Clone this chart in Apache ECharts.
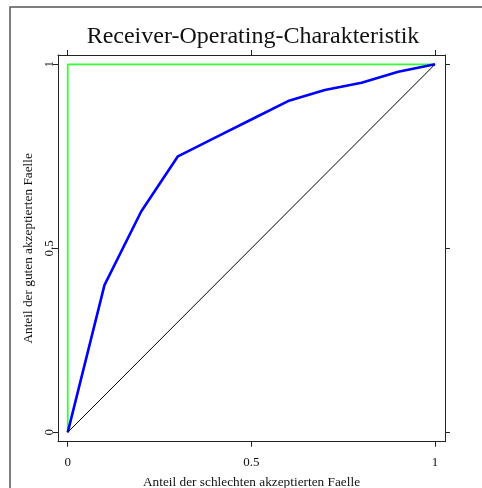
<!DOCTYPE html>
<html>
<head>
<meta charset="utf-8">
<script src="https://cdn.jsdelivr.net/npm/echarts@6/dist/echarts.min.js"></script>
<style>
html,body{margin:0;padding:0;background:#fff;}
#chart{width:482px;height:488px;}
</style>
</head>
<body>
<div id="chart"></div>
<script>
var titleText = 'Receiver-Operating-Charakteristik';
var xName = 'Anteil der schlechten akzeptierten Faelle';
var yName = 'Anteil der guten akzeptierten Faelle';
var tickValues = [0, 0.5, 1];
var tickLabels = ['0', '0.5', '1'];
var rocX = [0, 0.1, 0.2, 0.3, 0.4, 0.5, 0.6, 0.7, 0.8, 0.9, 1];
var rocY = [0, 0.4, 0.6, 0.75, 0.8, 0.85, 0.9, 0.93, 0.95, 0.98, 1];
var perfectX = [0, 0, 1];
var perfectY = [0, 1, 1];
var diagX = [0, 1];
var diagY = [0, 1];

function pairs(xs, ys) { return xs.map(function (x, i) { return [x, ys[i]]; }); }
function fmt(v) { var i = tickValues.indexOf(Math.round(v * 1000) / 1000); return i >= 0 ? tickLabels[i] : ''; }

var FONT = '"Liberation Serif", "DejaVu Serif", serif';
var lineCol = '#222';

function axisBase(pos, showLabel, isY) {
  return {
    type: 'value',
    position: pos,
    min: isY ? -0.0255 : -0.0265,
    max: isY ? 1.0253 : 1.0272,
    axisLine: { show: true, onZero: false, lineStyle: { color: lineCol, width: 1 } },
    axisTick: { show: true, inside: false, length: 5, customValues: tickValues, lineStyle: { color: lineCol, width: 1 } },
    axisLabel: {
      show: showLabel, customValues: tickValues, formatter: fmt,
      fontFamily: FONT, fontSize: 13, color: '#111',
      margin: isY ? 2 : 14, rotate: isY ? 90 : 0
    },
    splitLine: { show: false }
  };
}

var xBottom = axisBase('bottom', true, false);
xBottom.name = xName; xBottom.nameLocation = 'middle'; xBottom.nameGap = 34;
xBottom.nameTextStyle = { fontFamily: FONT, fontSize: 13.3, color: '#111' };
var xTop = axisBase('top', false, false);
var yLeft = axisBase('left', true, true);
yLeft.name = yName; yLeft.nameLocation = 'middle'; yLeft.nameGap = 21;
yLeft.nameTextStyle = { fontFamily: FONT, fontSize: 13.3, color: '#111' };
var yRight = axisBase('right', false, true);

var chart = echarts.init(document.getElementById('chart'), null, { renderer: 'canvas' });
chart.setOption({
  animation: false,
  backgroundColor: '#fff',
  title: {
    text: titleText, left: 248, top: 20, textAlign: 'center',
    textStyle: { fontFamily: FONT, fontSize: 24, fontWeight: 'normal', color: '#111' }
  },
  graphic: [{
    type: 'rect', z: -1, silent: true,
    shape: { x: 10, y: 7, width: 520, height: 520 },
    style: { fill: null, stroke: '#555', lineWidth: 1.5 }
  }],
  grid: { left: 58, top: 55, right: 37, bottom: 46.3, show: false, containLabel: false, outerBoundsMode: 'none' },
  xAxis: [xBottom, xTop],
  yAxis: [yLeft, yRight],
  series: [
    { type: 'line', xAxisIndex: 0, yAxisIndex: 0, data: pairs(perfectX, perfectY), symbol: 'none',
      lineStyle: { color: '#33ff33', width: 1.8 }, z: 2 },
    { type: 'line', xAxisIndex: 0, yAxisIndex: 0, data: pairs(rocX, rocY), symbol: 'none',
      lineStyle: { color: '#0000ff', width: 2.6 }, z: 3 },
    { type: 'line', xAxisIndex: 0, yAxisIndex: 0, data: pairs(diagX, diagY), symbol: 'none',
      lineStyle: { color: '#000000', width: 1 }, z: 4 }
  ]
});
</script>
</body>
</html>
